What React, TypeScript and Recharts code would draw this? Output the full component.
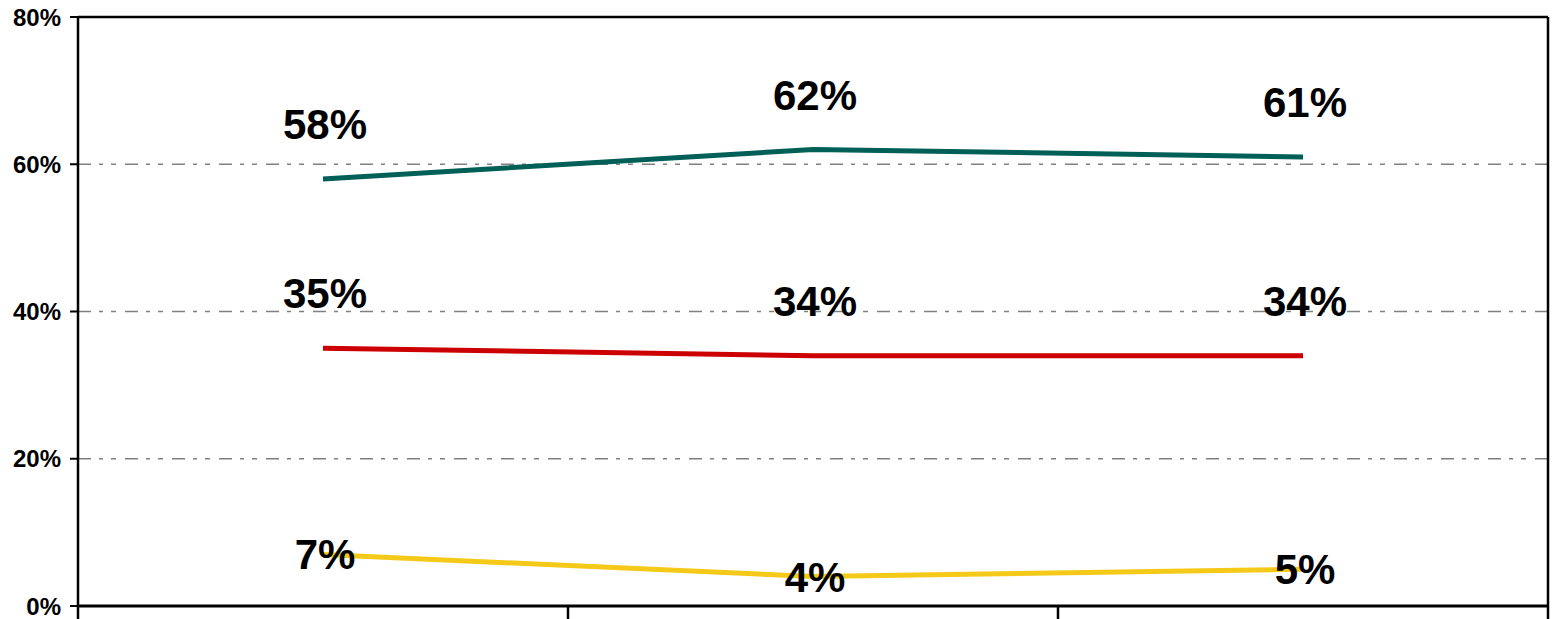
import React from "react";
import { LineChart, Line, XAxis, YAxis, CartesianGrid, LabelList, ReferenceLine } from "recharts";

const categories = ["A", "B", "C"];
const tealValues = [58, 62, 61];
const redValues = [35, 34, 34];
const yellowValues = [7, 4, 5];
const yTicks = [0, 20, 40, 60, 80];
const xBoundaryTicks = [0, 1, 2, 3];

const data = categories.map((c, i) => ({
  name: c,
  x: i + 0.5,
  teal: tealValues[i],
  red: redValues[i],
  yellow: yellowValues[i],
}));

const FONT = '"Liberation Sans", Arial, Helvetica, sans-serif';

const makeLabel = (dy: number) => (props: any) => {
  const { x, y, value } = props;
  return (
    <text
      x={x + 2}
      y={y + dy}
      textAnchor="middle"
      fontFamily={FONT}
      fontWeight="bold"
      fontSize={42}
      fill="#000"
    >
      {value}%
    </text>
  );
};

const EmptyTick = () => <g />;

export default function App() {
  return (
    <div style={{ position: "absolute", left: 0, top: 0, width: 1552, height: 619, background: "#fff" }}>
      <LineChart
        width={1552}
        height={619}
        data={data}
        margin={{ top: 17, right: 4, bottom: 0, left: 0 }}
      >
        <CartesianGrid
          horizontal={true}
          vertical={false}
          stroke="#808080"
          strokeWidth={1.5}
          strokeDasharray="13 8 4 8 5 9"
        />
        <XAxis
          dataKey="x"
          type="number"
          domain={[0, 3]}
          ticks={xBoundaryTicks}
          tick={<EmptyTick />}
          tickSize={13}
          height={13}
          interval={0}
          tickLine={{ stroke: "#000", strokeWidth: 2.5 }}
          axisLine={{ stroke: "#000", strokeWidth: 3 }}
        />
        <YAxis
          type="number"
          domain={[0, 80]}
          ticks={yTicks}
          tickFormatter={(v: number) => `${v}%`}
          width={78}
          tickSize={8}
          tickMargin={9}
          interval={0}
          tick={{ fill: "#000", fontFamily: FONT, fontWeight: "bold", fontSize: 24 }}
          tickLine={{ stroke: "#000", strokeWidth: 2 }}
          axisLine={{ stroke: "#000", strokeWidth: 2.5 }}
        />
        <ReferenceLine y={80} stroke="#000" strokeWidth={2.5} />
        <ReferenceLine x={3} stroke="#000" strokeWidth={2.5} />
        <Line
          type="linear"
          dataKey="teal"
          stroke="#005F56"
          strokeWidth={5}
          dot={false}
          isAnimationActive={false}
        >
          <LabelList dataKey="teal" content={makeLabel(-40)} />
        </Line>
        <Line
          type="linear"
          dataKey="red"
          stroke="#CC0000"
          strokeWidth={5}
          dot={false}
          isAnimationActive={false}
        >
          <LabelList dataKey="red" content={makeLabel(-40)} />
        </Line>
        <Line
          type="linear"
          dataKey="yellow"
          stroke="#F5C918"
          strokeWidth={5}
          dot={false}
          isAnimationActive={false}
        >
          <LabelList dataKey="yellow" content={makeLabel(15)} />
        </Line>
      </LineChart>
    </div>
  );
}
